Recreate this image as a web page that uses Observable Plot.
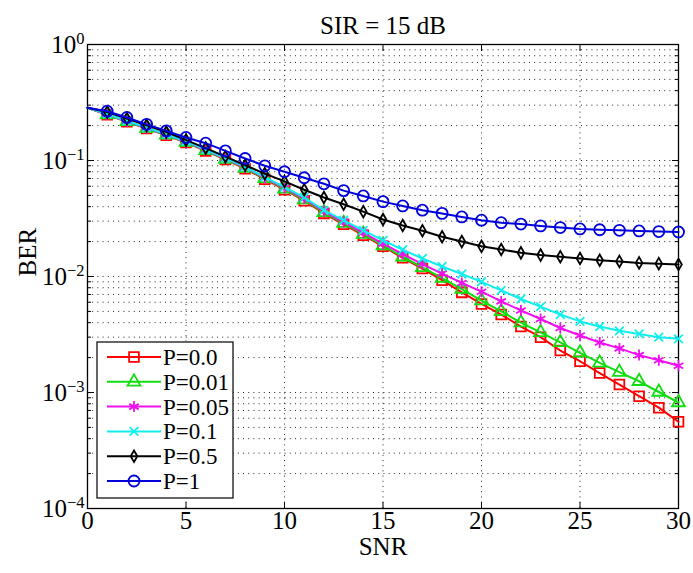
<!DOCTYPE html>
<html>
<head>
<meta charset="utf-8">
<script src="https://cdn.jsdelivr.net/npm/d3@7"></script>
<script src="https://cdn.jsdelivr.net/npm/@observablehq/plot@0.6"></script>
<style>
  body { margin: 0; background: #fff; }
</style>
</head>
<body>
<div id="chart"></div>
<script>
// ---- data ----
const snr = [0,1,2,3,4,5,6,7,8,9,10,11,12,13,14,15,16,17,18,19,20,21,22,23,24,25,26,27,28,29,30];

const berP000 = [0.285,0.248,0.216,0.189,0.165,0.143,0.121,0.102,0.085,0.069,0.056,0.045,0.0350,0.0282,0.0227,0.0182,0.0145,0.0117,0.0093,0.0073,0.0058,0.0047,0.0037,0.0030,0.0023,0.00186,0.00147,0.00117,0.00093,0.00074,0.00056];
const berP001 = [0.285,0.249,0.217,0.190,0.166,0.144,0.122,0.103,0.086,0.070,0.057,0.046,0.0357,0.0288,0.0232,0.0185,0.0148,0.0120,0.0097,0.0078,0.0062,0.0050,0.0040,0.0033,0.0027,0.0022,0.0018,0.0015,0.00125,0.00101,0.00082];
const berP005 = [0.285,0.250,0.218,0.191,0.167,0.145,0.123,0.104,0.087,0.071,0.058,0.047,0.0365,0.0295,0.0238,0.0192,0.0156,0.0128,0.0106,0.0088,0.0074,0.0061,0.0051,0.0043,0.0036,0.0031,0.0027,0.0024,0.0021,0.0019,0.0017];
const berP010 = [0.285,0.251,0.219,0.192,0.168,0.146,0.124,0.105,0.088,0.072,0.059,0.048,0.0373,0.0305,0.0250,0.0205,0.0170,0.0143,0.0122,0.0105,0.0090,0.0076,0.0064,0.0055,0.0047,0.0041,0.0037,0.0034,0.0032,0.0030,0.0029];
const berP050 = [0.285,0.262,0.230,0.201,0.176,0.150,0.128,0.108,0.091,0.077,0.066,0.056,0.048,0.042,0.0362,0.0310,0.0275,0.0248,0.0220,0.0200,0.0182,0.0171,0.0160,0.0153,0.0148,0.0143,0.0138,0.0135,0.0131,0.0129,0.0127];
const berP100 = [0.285,0.266,0.235,0.205,0.180,0.158,0.141,0.121,0.104,0.090,0.080,0.071,0.063,0.055,0.0495,0.0442,0.0406,0.0373,0.0350,0.0326,0.0306,0.0291,0.0283,0.0273,0.0264,0.0257,0.0253,0.0250,0.0247,0.0244,0.0242];

const seriesNames   = ["P=0.0", "P=0.01", "P=0.05", "P=0.1", "P=0.5", "P=1"];
const seriesValues  = [berP000, berP001, berP005, berP010, berP050, berP100];
const seriesColors  = ["#ff0000", "#11dd11", "#ee11ee", "#11eeee", "#000000", "#0000dd"];
const seriesSymbols = ["square", "triangle", "asterisk", "times", "diamond", "circle"];
const seriesRadius  = [5.5, 4.8, 5.2, 4, 3.5, 5.5];

const xTicks = [0, 5, 10, 15, 20, 25, 30];
const yTicks = [1e-4, 1e-3, 1e-2, 1e-1, 1];
const yMinor = [];
for (let e = -4; e < 0; e++) for (let k = 1; k <= 9; k++) yMinor.push(k * Math.pow(10, e));
yMinor.push(1);

const titleText = "SIR = 15 dB";
const xLabel = "SNR";
const yLabel = "BER";

// ---- long table for Plot ----
const rows = seriesNames.flatMap((name, i) =>
  snr.map((s, j) => ({ name, snr: s, ber: seriesValues[i][j] }))
);

const SERIF = "'Liberation Serif', 'Times New Roman', serif";
const dotted = { stroke: "#000", strokeOpacity: 0.85, strokeDasharray: "1,4.2", strokeWidth: 1 };
const FONT = 25;

const marks = [
  Plot.gridY(yMinor, dotted),
  Plot.gridX(xTicks.slice(1, -1), dotted),
  // inward tick marks
  Plot.axisY(yMinor, { anchor: "left", tickSize: 4, dx: 4, tickFormat: () => "", label: null }),
  Plot.axisY(yMinor, { anchor: "right", tickSize: 4, dx: -4, tickFormat: () => "", label: null }),
  Plot.axisY(yTicks, { anchor: "left", tickSize: 7, dx: 7, tickFormat: () => "", label: null }),
  Plot.axisY(yTicks, { anchor: "right", tickSize: 7, dx: -7, tickFormat: () => "", label: null }),
  Plot.axisX(xTicks, { anchor: "bottom", tickSize: 6, dy: -6, tickFormat: () => "", label: null }),
  Plot.axisX(xTicks, { anchor: "top", tickSize: 6, dy: 6, tickFormat: () => "", label: null }),
  // tick labels
  Plot.axisY(yTicks, { anchor: "left", tickSize: 0, tickPadding: 3, fontSize: FONT, fontFamily: SERIF,
    tickFormat: d => "10^" + Math.round(Math.log10(d)), label: null }),
  Plot.axisX(xTicks, { anchor: "bottom", tickSize: 0, tickPadding: 3, fontSize: FONT, fontFamily: SERIF, label: null }),
  Plot.frame({ stroke: "#000", strokeWidth: 1.3 }),
  // title and axis labels
  Plot.text([titleText], { text: d => d, frameAnchor: "top", dy: -28, fontSize: FONT, fontFamily: SERIF }),
  Plot.text([xLabel], { text: d => d, frameAnchor: "bottom", dy: 46, fontSize: FONT, fontFamily: SERIF }),
  Plot.text([yLabel], { text: d => d, frameAnchor: "left", dx: -60, rotate: -90, fontSize: FONT, fontFamily: SERIF })
];

seriesNames.forEach((name, i) => {
  const data = rows.filter(d => d.name === name);
  marks.push(Plot.line(data, { x: "snr", y: "ber", stroke: seriesColors[i], strokeWidth: 2 }));
  marks.push(Plot.dot(data.filter(d => d.snr >= 1), {
    x: "snr", y: "ber", symbol: seriesSymbols[i], r: seriesRadius[i],
    stroke: seriesColors[i], fill: "none", strokeWidth: 1.8
  }));
});

const svg = Plot.plot({
  width: 693,
  height: 573,
  marginTop: 44,
  marginBottom: 65,
  marginLeft: 87,
  marginRight: 15,
  style: { fontFamily: SERIF, fontSize: FONT + "px", background: "#fff", color: "#000" },
  x: { domain: [0, 30] },
  y: { type: "log", domain: [1e-4, 1] },
  marks
});

document.getElementById("chart").appendChild(svg);

// superscript exponents on the y tick labels
d3.select(svg).selectAll("text").each(function () {
  const t = this.textContent;
  const m = /^10\^(-?\d+)$/.exec(t);
  if (!m) return;
  const el = d3.select(this);
  el.text(null);
  el.append("tspan").text("10");
  el.append("tspan").attr("dy", "-0.5em").attr("font-size", "0.66em").text(m[1].replace("-", "\u2212"));
});

// legend (lower left, inside the axes)
const symbolMap = { square: d3.symbolSquare, triangle: d3.symbolTriangle, asterisk: d3.symbolAsterisk,
                    times: d3.symbolTimes, diamond: d3.symbolDiamond, circle: d3.symbolCircle };
const lg = d3.select(svg).append("g").attr("font-family", SERIF).attr("text-anchor", "start");
lg.append("rect").attr("x", 97).attr("y", 342).attr("width", 136).attr("height", 156)
  .attr("fill", "#fff").attr("stroke", "#000").attr("stroke-width", 1.2);
seriesNames.forEach((name, i) => {
  const cy = 357 + i * 24.8;
  lg.append("line").attr("x1", 107).attr("x2", 161).attr("y1", cy).attr("y2", cy)
    .attr("stroke", seriesColors[i]).attr("stroke-width", 2);
  lg.append("path")
    .attr("d", d3.symbol(symbolMap[seriesSymbols[i]], Math.PI * seriesRadius[i] * seriesRadius[i])())
    .attr("transform", `translate(134,${cy})`)
    .attr("fill", "none").attr("stroke", seriesColors[i]).attr("stroke-width", 1.8);
  lg.append("text").attr("x", 163).attr("y", cy).attr("dy", "0.35em")
    .attr("font-size", 23).attr("fill", "#000").text(name);
});
</script>
</body>
</html>
